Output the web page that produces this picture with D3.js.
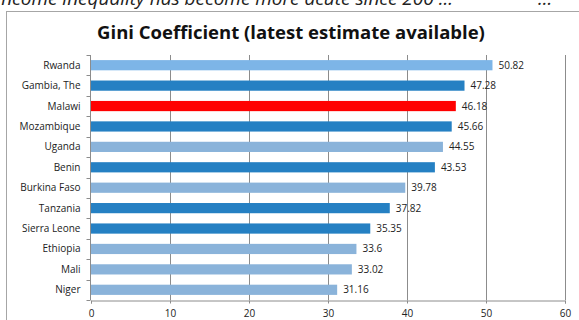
<!DOCTYPE html>
<html>
<head>
<meta charset="utf-8">
<script src="https://cdn.jsdelivr.net/npm/d3@7"></script>
<style>
  body { margin: 0; background: #fff; }
  svg { display: block; }
</style>
</head>
<body>
<svg width="579" height="320"></svg>
<script>
var countries = ["Rwanda", "Gambia, The", "Malawi", "Mozambique", "Uganda", "Benin",
  "Burkina Faso", "Tanzania", "Sierra Leone", "Ethiopia", "Mali", "Niger"];
var gini = [50.82, 47.28, 46.18, 45.66, 44.55, 43.53, 39.78, 37.82, 35.35, 33.6, 33.02, 31.16];
var barColors = ["#7db5e7", "#2580c3", "#ff0000", "#2580c3", "#8ab3da", "#2580c3",
  "#8ab3da", "#2580c3", "#2580c3", "#8ab3da", "#8ab3da", "#8ab3da"];
var xTicks = [0, 10, 20, 30, 40, 50, 60];

var svg = d3.select("svg"),
    width = +svg.attr("width"),
    height = +svg.attr("height"),
    margin = {top: 55, right: 14, bottom: 20, left: 91};

var data = countries.map(function(c, i) { return {name: c, value: gini[i], color: barColors[i]}; });

// caption of the page above, cropped by the picture's top edge
svg.append("text")
  .attr("x", -4).attr("y", 5)
  .style("font", "italic 19px 'Open Sans', sans-serif")
  .style("fill", "#222")
  .text("Income inequality has become more acute since 200 ...");
svg.append("text")
  .attr("x", 538).attr("y", 5)
  .style("font", "italic 19px 'Open Sans', sans-serif")
  .style("fill", "#222")
  .text("...");

// chart frame
svg.append("rect")
  .attr("x", 6.5).attr("y", 11.5)
  .attr("width", 600).attr("height", 400)
  .attr("fill", "#fff")
  .attr("stroke", "#a6a6a6");

svg.append("text")
  .attr("x", 291).attr("y", 39)
  .attr("text-anchor", "middle")
  .style("font", "bold 18.5px 'Open Sans', sans-serif")
  .style("fill", "#111")
  .text("Gini Coefficient (latest estimate available)");

var x = d3.scaleLinear().domain([0, 60]).range([margin.left, width - margin.right]);
var y = d3.scaleBand().domain(countries).range([margin.top, height - margin.bottom]).paddingInner(0.5).paddingOuter(0.25);

// gridlines
svg.append("g")
  .selectAll("line")
  .data(xTicks.slice(1))
  .enter().append("line")
  .attr("x1", function(d) { return Math.round(x(d)) + 0.5; })
  .attr("x2", function(d) { return Math.round(x(d)) + 0.5; })
  .attr("y1", margin.top)
  .attr("y2", height - margin.bottom)
  .attr("stroke", "#8c8c8c");

svg.append("g")
  .selectAll("rect")
  .data(data)
  .enter().append("rect")
  .attr("x", x(0))
  .attr("y", function(d) { return y(d.name); })
  .attr("width", function(d) { return x(d.value) - x(0); })
  .attr("height", y.bandwidth())
  .attr("fill", function(d) { return d.color; });

svg.append("g")
  .selectAll("text")
  .data(data)
  .enter().append("text")
  .attr("x", function(d) { return x(d.value) + 6; })
  .attr("y", function(d) { return y(d.name) + y.bandwidth() / 2; })
  .attr("dy", "0.35em")
  .style("font", "10px 'Open Sans', sans-serif")
  .style("fill", "#222")
  .text(function(d) { return d.value; });

// x axis
var xAxis = svg.append("g")
  .attr("transform", "translate(0," + (Math.round(height - margin.bottom) + 0.5) + ")")
  .call(d3.axisBottom(x).tickValues(xTicks).tickSize(3).tickPadding(6));
xAxis.select(".domain").attr("stroke", "#8c8c8c");
xAxis.selectAll(".tick line").attr("stroke", "#8c8c8c");
xAxis.selectAll("text").style("font", "10px 'Open Sans', sans-serif").style("fill", "#222");

// category axis, tick marks sit between categories
var yAxis = svg.append("g").attr("transform", "translate(" + (Math.round(x(0)) - 0.5) + ",0)");
yAxis.append("line")
  .attr("y1", margin.top).attr("y2", height - margin.bottom)
  .attr("stroke", "#8c8c8c");
yAxis.selectAll(".sep")
  .data(d3.range(countries.length + 1))
  .enter().append("line")
  .attr("class", "sep")
  .attr("x1", -4).attr("x2", 0)
  .attr("y1", function(i) { return Math.round(margin.top + i * y.step()) + 0.5; })
  .attr("y2", function(i) { return Math.round(margin.top + i * y.step()) + 0.5; })
  .attr("stroke", "#8c8c8c");
yAxis.selectAll(".lbl")
  .data(countries)
  .enter().append("text")
  .attr("class", "lbl")
  .attr("x", -10)
  .attr("y", function(d) { return y(d) + y.bandwidth() / 2; })
  .attr("dy", "0.35em")
  .attr("text-anchor", "end")
  .style("font", "10px 'Open Sans', sans-serif")
  .style("fill", "#222")
  .text(function(d) { return d; });
</script>
</body>
</html>
